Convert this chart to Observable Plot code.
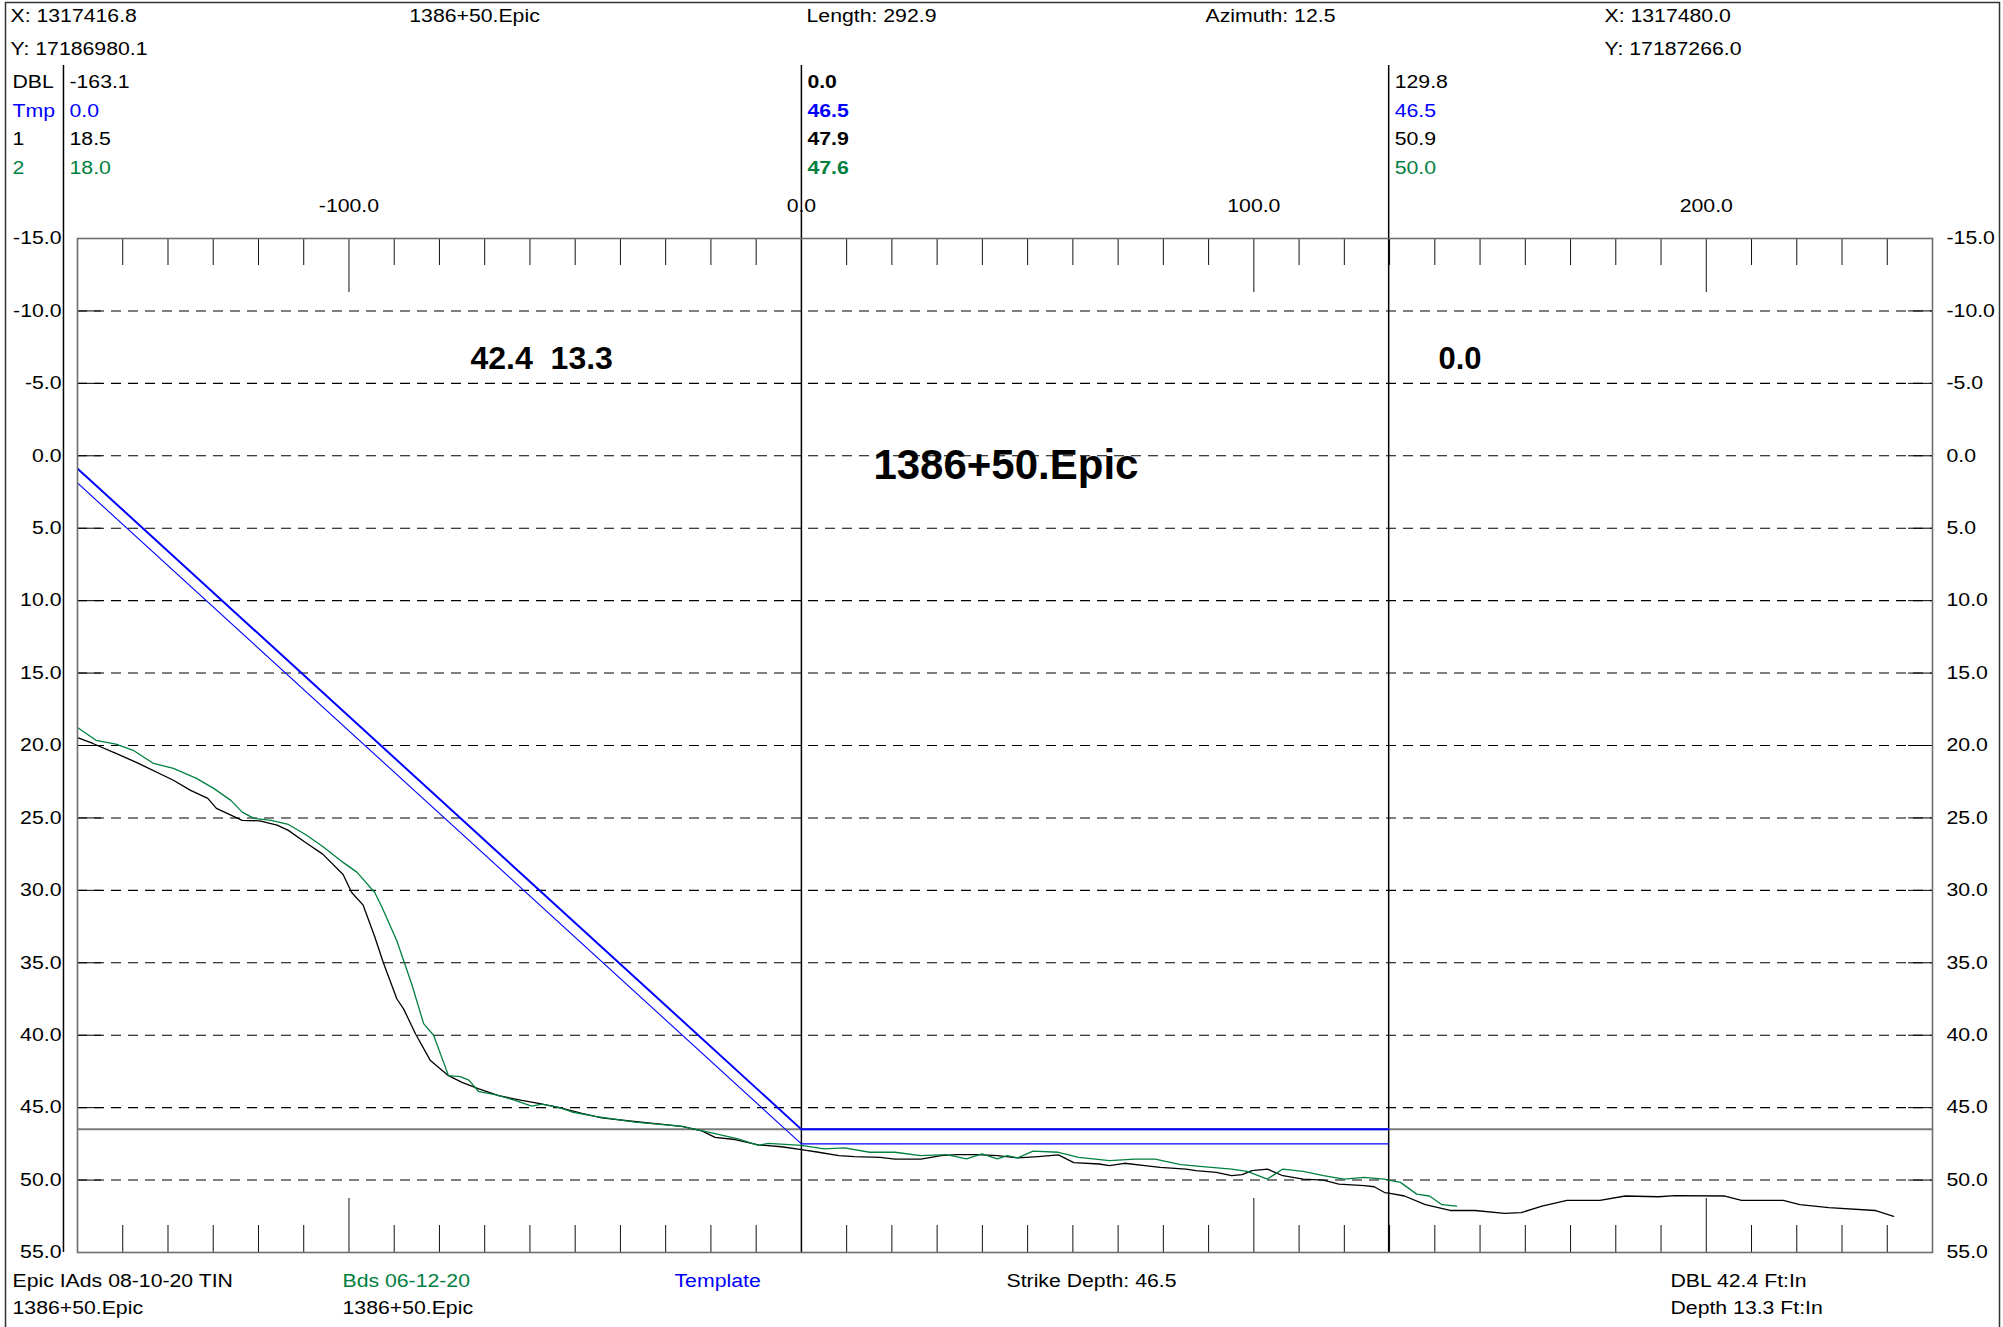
<!DOCTYPE html>
<html>
<head>
<meta charset="utf-8">
<script src="https://cdn.jsdelivr.net/npm/d3@7"></script>
<script src="https://cdn.jsdelivr.net/npm/@observablehq/plot@0.6"></script>
<style>
html, body { margin: 0; padding: 0; background: #fff; }
svg text { white-space: pre; }
</style>
</head>
<body>
<div id="chart"></div>
<script>
// ---------- data ----------
const xDomain = [-160, 250];
const yDomain = [-15, 55];
const gridY = [-10, -5, 0, 5, 10, 15, 20, 25, 30, 35, 40, 45, 50];
const yLabels = [-15, -10, -5, 0, 5, 10, 15, 20, 25, 30, 35, 40, 45, 50, 55];
const xLabels = [-100, 0, 100, 200];
const minorX = [-150, -140, -130, -120, -110, -90, -80, -70, -60, -50, -40, -30, -20, -10,
                10, 20, 30, 40, 50, 60, 70, 80, 90, 110, 120, 130, 140, 150, 160, 170, 180, 190,
                210, 220, 230, 240];
const majorX = [-100, 100, 200];

// series 1: Epic IAds 08-10-20 TIN (black)
const s1Dbl = [-163.1, -160, -156.6, -151.5, -147.0, -138.8, -135.0, -131.2, -129.3, -123.6, -119.7, -115.9,
  -113.4, -109.6, -105.8, -101.3, -99.4, -96.9, -94.3, -92.4, -89.4, -87.9, -85.3, -82.0, -78.0, -75.0,
  -71.3, -66.9, -61.8, -58.1, -53.7, -48.5, -44.1, -37.5, -30.1, -26.4, -22.0, -19.1, -14.7, -9.5, -4.4, 0,
  3.8, 8.3, 11.7, 17.4, 20.7, 26.4, 30.9, 34.3, 38.8, 43.3, 47.8, 52.3, 56.8, 60.2, 65.8, 68.1, 71.4, 75.9,
  79.3, 85.0, 87.2, 91.7, 95.1, 97.4, 99.6, 103.0, 106.4, 110.9, 115.4, 118.8, 124.4, 126.6, 128.9, 129.8,
  133.3, 137.9, 143.4, 148.9, 155.4, 159.1, 163.7, 169.2, 176.5, 182.1, 189.4, 193.1, 204.1, 207.8, 217.0,
  220.7, 227.1, 237.3, 241.4];
const s1Elev = [18.5, 19.45, 19.86, 20.55, 21.16, 22.4, 23.1, 23.65, 24.34, 25.17, 25.2, 25.5,
  25.86, 26.7, 27.5, 28.9, 30.15, 31.0, 33.2, 35.0, 37.5, 38.2, 39.9, 41.75, 42.79, 43.25,
  43.7, 44.17, 44.5, 44.7, 44.98, 45.4, 45.7, 45.94, 46.17, 46.3, 46.6, 47.05, 47.2, 47.57, 47.7, 47.9,
  48.08, 48.31, 48.38, 48.43, 48.56, 48.56, 48.31, 48.24, 48.24, 48.31, 48.47, 48.38, 48.26, 48.8, 48.89, 49.0, 48.84, 49.0,
  49.12, 49.24, 49.35, 49.47, 49.7, 49.63, 49.35, 49.24, 49.7, 49.93, 50.0, 50.28, 50.39, 50.46, 50.86, 50.9,
  51.1, 51.7, 52.1, 52.1, 52.3, 52.25, 51.8, 51.4, 51.4, 51.1, 51.15, 51.07, 51.1, 51.4, 51.4,
  51.7, 51.9, 52.1, 52.5];

// series 2: Bds 06-12-20 (green)
const s2Dbl = [-163.1, -160, -155.9, -151.5, -147.7, -143.2, -138.8, -133.7, -129.9, -126.1, -123.6, -121.0,
  -117.2, -113.4, -109.6, -105.8, -101.3, -98.2, -94.3, -92.7, -89.4, -86.1, -83.5, -81.3, -78.0, -75.4,
  -73.5, -71.3, -67.7, -63.3, -59.6, -57.4, -53.7, -50.7, -45.6, -36.7, -26.4, -19.1, -14.0, -9.5, -7.3, 0,
  5.0, 9.5, 15.1, 20.7, 26.4, 32.0, 36.5, 39.9, 43.3, 45.5, 47.8, 51.2, 56.8, 61.3, 68.1, 73.7, 78.2, 83.8,
  90.6, 95.1, 98.5, 103.0, 106.4, 110.9, 115.4, 119.9, 124.4, 128.9, 129.8, 132.4, 136.0, 138.8, 141.6, 144.8];
const s2Elev = [18.0, 18.76, 19.64, 19.9, 20.33, 21.24, 21.58, 22.27, 22.96, 23.79, 24.6, 25.03,
  25.17, 25.45, 26.14, 26.97, 28.07, 28.76, 30.15, 31.17, 33.5, 36.5, 39.2, 40.0, 42.79, 42.86,
  43.1, 43.9, 44.1, 44.5, 44.9, 44.75, 44.98, 45.3, 45.6, 46.0, 46.3, 46.8, 47.16, 47.6, 47.46, 47.6,
  47.85, 47.78, 48.08, 48.08, 48.31, 48.24, 48.54, 48.19, 48.54, 48.31, 48.47, 48.0, 48.08, 48.43, 48.66, 48.56, 48.56, 48.94,
  49.12, 49.24, 49.4, 49.93, 49.24, 49.4, 49.7, 49.93, 49.81, 49.93, 50.0, 50.16, 50.97, 51.1, 51.7, 51.8];

// template (blue)
const tmpDbl = [-163.1, 0, 129.8];
const tmpTopElev = [0.0, 46.5, 46.5];
const tmpBottomElev = [1.0, 47.5, 47.5];
const strikeDepth = 46.5;

// header table
const colDbl = [-163.1, 0, 129.8];
const rowNames = ["DBL", "Tmp", "1", "2"];
const colValues = [
  ["-163.1", "0.0", "18.5", "18.0"],
  ["0.0", "46.5", "47.9", "47.6"],
  ["129.8", "46.5", "50.9", "50.0"]
];
const headerLine1 = ["X: 1317416.8", "1386+50.Epic", "Length: 292.9", "Azimuth: 12.5", "X: 1317480.0"];
const headerLine2 = ["Y: 17186980.1", "Y: 17187266.0"];
const footer = ["Epic IAds 08-10-20 TIN", "1386+50.Epic", "Bds 06-12-20", "1386+50.Epic", "Template",
  "Strike Depth: 46.5", "DBL 42.4 Ft:In", "Depth 13.3 Ft:In"];
const bigLabels = ["42.4  13.3", "0.0", "1386+50.Epic"];

// ---------- build ----------
const zip = (xs, ys) => xs.map((x, i) => ({x, y: ys[i]}));
const s1 = zip(s1Dbl, s1Elev);
const s2 = zip(s2Dbl, s2Elev);
const tmpTop = zip(tmpDbl, tmpTopElev);
const tmpBottom = zip(tmpDbl, tmpBottomElev);

const W = 2003, H = 1327, ML = 77, MR = 71, MT = 238, MB = 75;
const FW = W - ML - MR, FH = H - MT - MB;
const BLUE = "#0000ff", GREEN = "#008040", BLACK = "#000";
const rowColors = [BLACK, BLUE, BLACK, GREEN];
const rowDy = [-163.5, -134.5, -106, -77];

const stat = (t, frameAnchor, dx, dy, textAnchor, fill) =>
  Plot.text([t], {text: d => d, frameAnchor, dx, dy, textAnchor, fill});

const headerCells = [];
colDbl.forEach((x, c) => rowNames.forEach((r, i) => headerCells.push({x, i, c, t: colValues[c][i]})));

const marks = [
  // outer border
  Plot.frame({stroke: "#333", strokeWidth: 1.5, insetLeft: -(ML - 5), insetTop: -(MT - 2), insetRight: -(MR - 4), insetBottom: -(MB + 6)}),
  // dashed grid
  Plot.ruleY(gridY, {stroke: "#000", strokeWidth: 1.1, strokeDasharray: "10,7"}),
  Plot.tickY(gridY, {stroke: "#000", insetRight: FW - 24}),
  Plot.tickY(gridY, {stroke: "#000", insetLeft: FW - 24}),
  // x ticks top and bottom
  Plot.tickX(minorX, {stroke: "#111", insetBottom: FH - 27}),
  Plot.tickX(minorX, {stroke: "#111", insetTop: FH - 27}),
  Plot.tickX(majorX, {stroke: "#111", insetBottom: FH - 54}),
  Plot.tickX(majorX, {stroke: "#111", insetTop: FH - 54}),
  // column lines
  Plot.ruleX(colDbl, {stroke: BLACK, strokeWidth: 1.5, insetTop: -(MT - 65)}),
  // strike depth
  Plot.ruleY([strikeDepth], {stroke: "#7a7a7a", strokeWidth: 2}),
  // template
  Plot.line(tmpBottom, {x: "x", y: "y", stroke: BLUE, strokeWidth: 1.1, clip: true}),
  Plot.line(tmpTop, {x: "x", y: "y", stroke: BLUE, strokeWidth: 2, clip: true}),
  // ground lines
  Plot.line(s1, {x: "x", y: "y", stroke: BLACK, strokeWidth: 1.3, clip: true}),
  Plot.line(s2, {x: "x", y: "y", stroke: GREEN, strokeWidth: 1.3, clip: true}),
  // frame
  Plot.frame({stroke: "#6e6e6e", strokeWidth: 1.6}),
  // y labels
  Plot.text(yLabels, {y: d => d, text: d => d.toFixed(1), frameAnchor: "left", dx: -16, textAnchor: "end"}),
  Plot.text(yLabels, {y: d => d, text: d => d.toFixed(1), frameAnchor: "right", dx: 14, textAnchor: "start"}),
  // x labels (top)
  Plot.text(xLabels, {x: d => d, text: d => d.toFixed(1), frameAnchor: "top", dy: -39}),
  // header table values (centre column bold)
  ...rowNames.map((r, i) => Plot.text(headerCells.filter(d => d.i === i && d.c !== 1), {
    x: "x", text: "t", frameAnchor: "top", dx: 6, dy: rowDy[i], textAnchor: "start", fill: rowColors[i]
  })),
  ...rowNames.map((r, i) => Plot.text(headerCells.filter(d => d.i === i && d.c === 1), {
    x: "x", text: "t", frameAnchor: "top", dx: 6, dy: rowDy[i], textAnchor: "start", fill: rowColors[i], fontWeight: "bold"
  })),
  ...rowNames.map((r, i) => stat(r, "top-left", -65, rowDy[i], "start", rowColors[i])),
  // header lines
  stat(headerLine1[0], "top-left", -67, -229, "start", BLACK),
  stat(headerLine1[1], "top-left", 474 - ML, -229, "middle", BLACK),
  stat(headerLine1[2], "top-left", 871 - ML, -229, "middle", BLACK),
  stat(headerLine1[3], "top-left", 1270 - ML, -229, "middle", BLACK),
  stat(headerLine1[4], "top-left", 1604 - ML, -229, "start", BLACK),
  stat(headerLine2[0], "top-left", -67, -196, "start", BLACK),
  stat(headerLine2[1], "top-left", 1604 - ML, -196, "start", BLACK),
  // footer
  stat(footer[0], "bottom-left", -65, 34, "start", BLACK),
  stat(footer[1], "bottom-left", -65, 61, "start", BLACK),
  stat(footer[2], "bottom-left", 342 - ML, 34, "start", GREEN),
  stat(footer[3], "bottom-left", 342 - ML, 61, "start", BLACK),
  stat(footer[4], "bottom-left", 674 - ML, 34, "start", BLUE),
  stat(footer[5], "bottom-left", 1006 - ML, 34, "start", BLACK),
  stat(footer[6], "bottom-left", 1670 - ML, 34, "start", BLACK),
  stat(footer[7], "bottom-left", 1670 - ML, 61, "start", BLACK),
  // big labels
  Plot.text([bigLabels[0]], {text: d => d, x: -57.4, y: -6.7, fontWeight: "bold", fontSize: 32}),
  Plot.text([bigLabels[1]], {text: d => d, x: 140.8, y: -6.7, textAnchor: "start", fontWeight: "bold", fontSize: 31}),
  Plot.text([bigLabels[2]], {text: d => d, x: 45.2, y: 0.67, fontWeight: "bold", fontSize: 42})
];

const chart = Plot.plot({
  width: W, height: H,
  marginLeft: ML, marginRight: MR, marginTop: MT, marginBottom: MB,
  x: {domain: xDomain, axis: null},
  y: {domain: yDomain, reverse: true, axis: null},
  style: {fontFamily: "'Liberation Sans', Arial, sans-serif", fontSize: "18px", background: "#fff", color: "#000", overflow: "visible"},
  marks
});
document.getElementById("chart").append(chart);

// small text in the reference is horizontally wider than Arial: stretch it
const STRETCH = 1.18;
chart.querySelectorAll("text").forEach(t => {
  const fs = parseFloat(getComputedStyle(t).fontSize);
  if (fs <= 20) {
    const L = t.getComputedTextLength();
    if (L > 0) {
      t.setAttribute("textLength", (L * STRETCH).toFixed(1));
      t.setAttribute("lengthAdjust", "spacingAndGlyphs");
    }
  }
});
</script>
</body>
</html>
